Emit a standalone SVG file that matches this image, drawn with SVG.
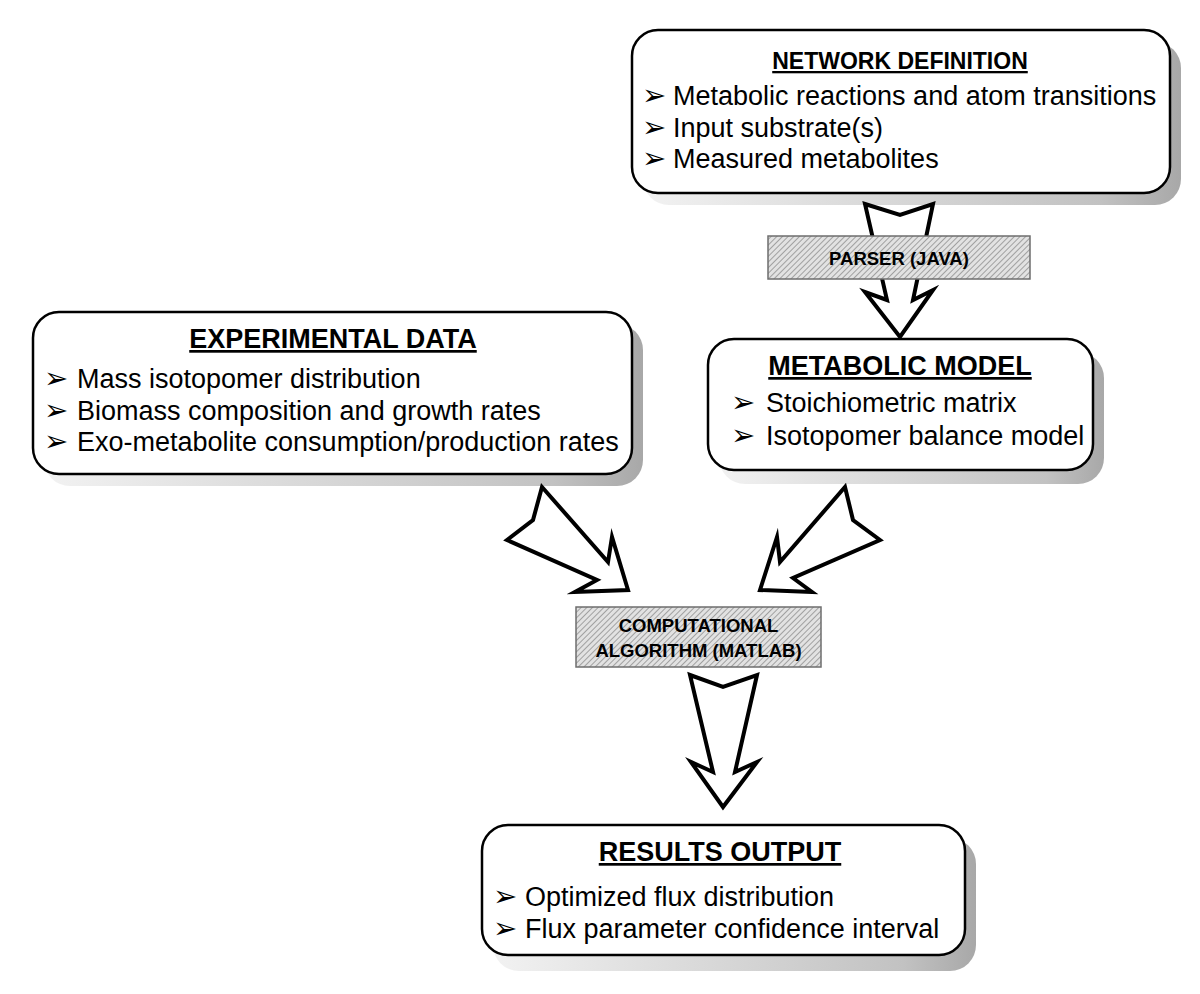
<svg xmlns="http://www.w3.org/2000/svg" width="1200" height="994" viewBox="0 0 1200 994">
<defs>
<linearGradient id="sh" x1="0" y1="0" x2="1" y2="0">
<stop offset="0" stop-color="#f2f2f2"/>
<stop offset="0.3" stop-color="#e0e0e0"/>
<stop offset="0.6" stop-color="#d0d0d0"/>
<stop offset="0.85" stop-color="#c2c2c2"/>
<stop offset="1" stop-color="#a8a8a8"/>
</linearGradient>
<pattern id="hatch" width="4" height="4" patternUnits="userSpaceOnUse" patternTransform="rotate(45)">
<rect width="4" height="4" fill="#e2e2e2"/>
<line x1="0" y1="0" x2="0" y2="4" stroke="#7c7c7c" stroke-width="1.3"/>
</pattern>
</defs>
<style>
.shadow{fill:url(#sh);}
.box{fill:#fff;stroke:#000;stroke-width:2.5;}
.title{font-family:"Liberation Sans",Arial,sans-serif;font-weight:bold;font-size:27px;text-anchor:middle;text-decoration:underline;fill:#000;}
.item{font-family:"Liberation Sans",Arial,sans-serif;font-size:27px;fill:#000;}
.bul{font-family:"DejaVu Sans",sans-serif;font-size:29px;fill:#000;}
.proc{fill:url(#hatch);stroke:#6e6e6e;stroke-width:1.5;}
.ptext{font-family:"Liberation Sans",Arial,sans-serif;font-weight:bold;font-size:18.5px;text-anchor:middle;fill:#000;}
.arrow{fill:#fff;stroke:#000;stroke-width:4;stroke-linejoin:miter;stroke-miterlimit:10;}
</style>
<rect width="1200" height="994" fill="#fff"/>

<g id="shadows">
<rect class="shadow" x="643" y="42" width="538" height="163" rx="26"/>
<rect class="shadow" x="44" y="324" width="599" height="162" rx="26"/>
<rect class="shadow" x="719" y="352" width="385" height="132" rx="26"/>
<rect class="shadow" x="493" y="838" width="483" height="133" rx="26"/>
</g>

<g id="connectors">
<polygon class="arrow" points="865,204 900,215 933,204 913,300 933,290 900,337 865,292 887,300"/>
<polygon class="arrow" points="542,487 533,520 507,540 597,580 575,592 628,590 612,537 608,562"/>
<polygon class="arrow" points="845,487 853,520 880,540 793,578 812,592 760,590 777,537 780,562"/>
<polygon class="arrow" points="690,675 723,687 757,675 735,772 757,762 723,807 691,762 713,772"/>
</g>

<g id="network-definition">
<rect class="box" x="632" y="30" width="538" height="163" rx="26"/>
<text class="title" x="900" y="69" style="font-size:23px">NETWORK DEFINITION</text>
<text class="bul" x="642" y="105">➢</text>
<text class="item" x="673" y="105">Metabolic reactions and atom transitions</text>
<text class="bul" x="642" y="137">➢</text>
<text class="item" x="673" y="137">Input substrate(s)</text>
<text class="bul" x="642" y="168">➢</text>
<text class="item" x="673" y="168">Measured metabolites</text>
</g>

<g id="parser">
<rect class="proc" x="768" y="236" width="262" height="43"/>
<text class="ptext" x="899" y="265">PARSER (JAVA)</text>
</g>

<g id="experimental-data">
<rect class="box" x="33" y="312" width="599" height="162" rx="26"/>
<text class="title" x="333" y="348">EXPERIMENTAL DATA</text>
<text class="bul" x="44" y="388">➢</text>
<text class="item" x="77" y="388">Mass isotopomer distribution</text>
<text class="bul" x="44" y="420">➢</text>
<text class="item" x="77" y="420">Biomass composition and growth rates</text>
<text class="bul" x="44" y="451">➢</text>
<text class="item" x="77" y="451">Exo-metabolite consumption/production rates</text>
</g>

<g id="metabolic-model">
<rect class="box" x="708" y="339" width="385" height="131" rx="26"/>
<text class="title" x="900" y="375">METABOLIC MODEL</text>
<text class="bul" x="731" y="412">➢</text>
<text class="item" x="766" y="412">Stoichiometric matrix</text>
<text class="bul" x="731" y="445">➢</text>
<text class="item" x="766" y="445">Isotopomer balance model</text>
</g>

<g id="computational-algorithm">
<rect class="proc" x="576" y="607" width="245" height="60"/>
<text class="ptext" x="698.5" y="632">COMPUTATIONAL</text>
<text class="ptext" x="698.5" y="657">ALGORITHM (MATLAB)</text>
</g>

<g id="results-output">
<rect class="box" x="482" y="825" width="483" height="130" rx="26"/>
<text class="title" x="720" y="861">RESULTS OUTPUT</text>
<text class="bul" x="493" y="906">➢</text>
<text class="item" x="525" y="906">Optimized flux distribution</text>
<text class="bul" x="493" y="938">➢</text>
<text class="item" x="525" y="938">Flux parameter confidence interval</text>
</g>
</svg>
